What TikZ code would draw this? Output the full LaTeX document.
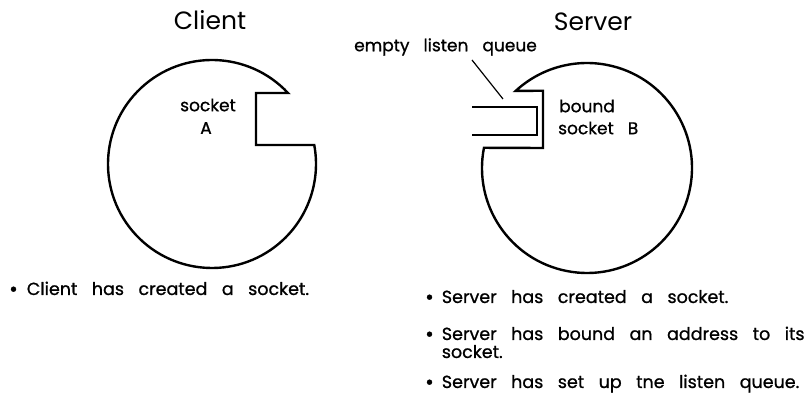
\documentclass[tikz,border=0pt]{standalone}
\usepackage{fontspec}
\usetikzlibrary{calc}
\setmainfont[WordSpace=3.1, FakeBold=0.9]{Poppins}
\newfontfamily\titlefont{Poppins}
\newcommand{\bigdot}{\raisebox{-1.2pt}{\fontsize{21}{18}\selectfont\textbullet}}
\begin{document}
\begin{tikzpicture}[x=1pt,y=1pt,
  outline/.style={line width=2.4pt, line join=miter},
  title/.style={font=\titlefont\fontsize{25}{28}\selectfont, inner sep=0pt},
  lbl/.style={font=\fontsize{17}{18}\selectfont, inner sep=0pt},
  bul/.style={font=\fontsize{17.5}{18}\selectfont, inner sep=0pt, anchor=base west, align=left}]
\useasboundingbox (0,0) rectangle (812,396);
% Client
\coordinate (cc) at (212,232);
\draw[outline] ($(cc)+(43.05:104)$) coordinate (ctop)
  arc[start angle=43.05, end angle=370.55, radius=104] coordinate (cbot)
  -- (256,251) -- (256,303) -- cycle;
\node[title] (client) at (210,376) {Client};
\node[lbl] (sockA) at (208,291) {socket};
\node[lbl] (A) at (206,268) {A};
% Server
\coordinate (sc) at (587,228);
\draw[outline] ($(sc)+(168.9:105)$)
  arc[start angle=168.9, end angle=492.68, radius=105]
  -- (543,305.2) -- (543,248) -- cycle;
\draw[outline] (472,289) -- (537,289) -- (537,261) -- (472,261);
\node[title] (server) at (593,374) {Server};
\node[lbl, anchor=west] (bound) at (559,290) {bound};
\node[lbl, anchor=west] (sockB) at (558,268) {socket B};
\node[lbl, anchor=west] (queue) at (354,349) {empty listen queue};
\coordinate (qend) at (503,297);
\draw[line width=1.2pt] (472,336) -- (qend);
% bullets
\node[bul] (b1) at (9,101) {\bigdot\hspace{9pt}Client has created a socket.};
\node[bul] (b2) at (425,93) {\bigdot\hspace{8pt}Server has created a socket.};
\node[bul] (b3) at (425,38) {\bigdot\hspace{8pt}Server has bound an address to its\\[0pt]\phantom{\bigdot}\hspace{8pt}socket.};
\node[bul] (b4) at (425,8) {\bigdot\hspace{8pt}Server has set up tne listen queue.};
\end{tikzpicture}
\end{document}
